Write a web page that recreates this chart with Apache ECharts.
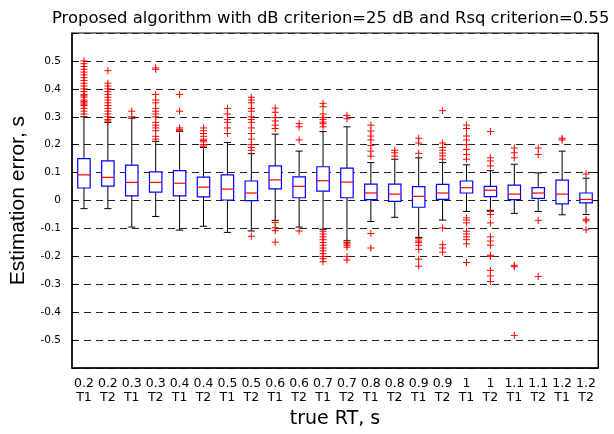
<!DOCTYPE html>
<html>
<head>
<meta charset="utf-8">
<script src="https://cdn.jsdelivr.net/npm/echarts@6/dist/echarts.min.js"></script>
<style>
  html, body { margin: 0; padding: 0; background: #fff; }
  #chart { width: 614px; height: 434px; }
</style>
</head>
<body>
<div id="chart"></div>
<script>
// ---- Data ----
const categories = [
  '0.2\nT1','0.2\nT2','0.3\nT1','0.3\nT2','0.4\nT1','0.4\nT2','0.5\nT1','0.5\nT2',
  '0.6\nT1','0.6\nT2','0.7\nT1','0.7\nT2','0.8\nT1','0.8\nT2','0.9\nT1','0.9\nT2',
  '1\nT1','1\nT2','1.1\nT1','1.1\nT2','1.2\nT1','1.2\nT2'
];
const whiskerLow = [-0.029,-0.029,-0.095,-0.057,-0.106,-0.092,-0.114,-0.109,-0.071,-0.095,-0.103,-0.144,-0.075,-0.060,-0.132,-0.070,-0.039,-0.035,-0.046,-0.039,-0.051,-0.050];
const q1         = [0.045,0.052,0.017,0.030,0.017,0.013,0.002,0.000,0.042,0.010,0.034,0.010,0.003,-0.003,-0.024,0.004,0.027,0.014,0.003,0.008,-0.012,-0.008];
const median     = [0.092,0.083,0.065,0.065,0.062,0.048,0.041,0.027,0.074,0.051,0.071,0.066,0.027,0.023,0.015,0.027,0.046,0.037,0.023,0.027,0.023,0.004];
const q3         = [0.150,0.142,0.127,0.103,0.107,0.084,0.092,0.070,0.124,0.085,0.121,0.116,0.059,0.059,0.050,0.058,0.070,0.051,0.055,0.046,0.073,0.027];
const whiskerHigh= [0.300,0.280,0.295,0.212,0.248,0.190,0.208,0.168,0.238,0.177,0.247,0.264,0.136,0.148,0.153,0.136,0.128,0.107,0.130,0.099,0.177,0.080];
const outliers = [
  [0.31,0.32,0.33,0.34,0.345,0.35,0.355,0.36,0.37,0.375,0.38,0.39,0.40,0.41,0.42,0.43,0.44,0.45,0.46,0.47,0.48,0.49,0.50],
  [0.285,0.29,0.30,0.31,0.32,0.33,0.34,0.35,0.36,0.37,0.38,0.39,0.40,0.41,0.42,0.465],
  [0.30,0.32],
  [0.22,0.23,0.25,0.26,0.27,0.28,0.30,0.31,0.32,0.33,0.35,0.36,0.38,0.47,0.475],
  [0.25,0.255,0.26,0.32,0.38],
  [0.195,0.20,0.21,0.215,0.22,0.23,0.24,0.25,0.26],
  [0.24,0.26,0.28,0.29,0.31,0.33],
  [0.18,0.19,0.20,0.22,0.24,0.26,0.28,0.29,0.30,0.32,0.33,0.35,0.36,0.37,-0.128],
  [0.258,0.27,0.285,0.297,0.316,0.331,-0.079,-0.097,-0.108,-0.149],
  [0.217,0.264,0.276,-0.109],
  [0.264,0.275,0.281,0.29,0.297,0.31,0.336,0.348,-0.11,-0.12,-0.13,-0.14,-0.15,-0.16,-0.17,-0.18,-0.19,-0.20,-0.208,-0.219],
  [0.293,0.305,-0.15,-0.155,-0.16,-0.167,-0.20,-0.213],
  [0.159,0.177,0.197,0.217,0.231,0.249,0.27,-0.118,-0.17],
  [0.159,0.171,0.18],
  [0.169,0.206,0.223,-0.137,-0.145,-0.15,-0.16,-0.175,-0.21,-0.235],
  [0.148,0.16,0.17,0.18,0.19,0.206,0.322,-0.098,-0.158,-0.17,-0.185],
  [0.148,0.165,0.183,0.20,0.217,0.231,0.258,0.27,-0.062,-0.07,-0.08,-0.11,-0.12,-0.13,-0.14,-0.155,-0.222],
  [0.124,0.142,0.153,0.247,-0.039,-0.05,-0.08,-0.13,-0.145,-0.16,-0.196,-0.20,-0.25,-0.27,-0.29],
  [0.153,0.171,0.188,-0.232,-0.237,-0.483],
  [0.165,0.188,-0.071,-0.272],
  [0.217,0.223],
  [0.095,-0.067,-0.073,-0.105]
];
const yTickValues = [-0.5,-0.4,-0.3,-0.2,-0.1,0,0.1,0.2,0.3,0.4,0.5];

const titleText = 'Proposed algorithm with dB criterion=25 dB and Rsq criterion=0.55';
const xName = 'true RT, s';
const yName = 'Estimation error, s';

// ---- Build series data from arrays ----
const boxData = categories.map((c, i) => [i, whiskerLow[i], q1[i], median[i], q3[i], whiskerHigh[i]]);
const outlierData = [];
outliers.forEach((list, i) => list.forEach(v => outlierData.push([i, v])));

const FONT = 'DejaVu Sans';
const chart = echarts.init(document.getElementById('chart'), null, { renderer: 'canvas' });

function fmt(v) {
  const r = Math.round(v * 10) / 10;
  if (yTickValues.indexOf(r) < 0) return '';
  return r === 0 ? '0' : String(r);
}

chart.setOption({
  animation: false,
  backgroundColor: '#fff',
  title: {
    text: titleText,
    left: 47,
    top: 6,
    textStyle: { fontFamily: FONT, fontSize: 16.4, fontWeight: 'normal', color: '#000' }
  },
  grid: {
    left: 71, right: 16, top: 33, bottom: 62,
    show: true, borderColor: '#000', borderWidth: 1, backgroundColor: '#fff'
  },
  xAxis: {
    type: 'category',
    data: categories,
    boundaryGap: true,
    axisLine: { show: true, onZero: false, lineStyle: { color: '#000', width: 1.5 } },
    axisTick: { show: false },
    splitLine: { show: false },
    axisLabel: {
      interval: 0, margin: 9, color: '#000',
      fontFamily: FONT, fontSize: 12.5, lineHeight: 14
    },
    name: xName,
    nameLocation: 'middle',
    nameGap: 39,
    nameTextStyle: { fontFamily: FONT, fontSize: 19, color: '#000' }
  },
  yAxis: [{
    type: 'value',
    min: -0.6, max: 0.6, interval: 0.1,
    axisLine: { show: true, lineStyle: { color: '#000', width: 1.5 } },
    axisTick: { show: true, inside: true, length: 5, lineStyle: { color: '#000' } },
    axisLabel: { formatter: fmt, margin: 11, color: '#000', fontFamily: FONT, fontSize: 10.5 },
    splitLine: { show: true, lineStyle: { color: '#222', width: 1, type: [7, 5] } },
    name: yName,
    nameLocation: 'middle',
    nameGap: 43,
    nameTextStyle: { fontFamily: 'Liberation Sans', fontSize: 21, color: '#000' }
  }, {
    type: 'value',
    position: 'right',
    min: -0.6, max: 0.6, interval: 0.1,
    axisLine: { show: true, lineStyle: { color: '#000', width: 1 } },
    axisTick: { show: true, inside: true, length: 4, lineStyle: { color: '#000' } },
    axisLabel: { show: false },
    splitLine: { show: false }
  }],
  series: [{
    type: 'custom',
    name: 'boxes',
    data: boxData,
    encode: { x: 0, y: [1, 2, 3, 4, 5] },
    renderItem: function (params, api) {
      const xi = api.value(0);
      const band = api.size([1, 0])[0];
      const bw = band * 0.52;
      const cw = band * 0.3;
      const pLow = api.coord([xi, api.value(1)]);
      const pQ1 = api.coord([xi, api.value(2)]);
      const pMed = api.coord([xi, api.value(3)]);
      const pQ3 = api.coord([xi, api.value(4)]);
      const pHigh = api.coord([xi, api.value(5)]);
      const cx = pMed[0];
      const black = { stroke: '#000', lineWidth: 1, fill: null };
      return {
        type: 'group',
        children: [
          { type: 'line', shape: { x1: cx, y1: pQ3[1], x2: cx, y2: pHigh[1] }, style: black },
          { type: 'line', shape: { x1: cx, y1: pQ1[1], x2: cx, y2: pLow[1] }, style: black },
          { type: 'line', shape: { x1: cx - cw / 2, y1: pHigh[1], x2: cx + cw / 2, y2: pHigh[1] }, style: black },
          { type: 'line', shape: { x1: cx - cw / 2, y1: pLow[1], x2: cx + cw / 2, y2: pLow[1] }, style: black },
          { type: 'rect', shape: { x: cx - bw / 2, y: pQ3[1], width: bw, height: pQ1[1] - pQ3[1] },
            style: { stroke: '#0000ff', lineWidth: 1.2, fill: '#fff' } },
          { type: 'line', shape: { x1: cx - bw / 2, y1: pMed[1], x2: cx + bw / 2, y2: pMed[1] },
            style: { stroke: '#ff0000', lineWidth: 1.2 } }
        ]
      };
    }
  }, {
    type: 'custom',
    name: 'outliers',
    data: outlierData,
    encode: { x: 0, y: 1 },
    z: 3,
    renderItem: function (params, api) {
      const p = api.coord([api.value(0), api.value(1)]);
      const h = 3.5;
      const st = { stroke: '#ff0000', lineWidth: 1 };
      return {
        type: 'group',
        children: [
          { type: 'line', shape: { x1: p[0] - h, y1: p[1], x2: p[0] + h, y2: p[1] }, style: st },
          { type: 'line', shape: { x1: p[0], y1: p[1] - h, x2: p[0], y2: p[1] + h }, style: st }
        ]
      };
    }
  }]
});
</script>
</body>
</html>
